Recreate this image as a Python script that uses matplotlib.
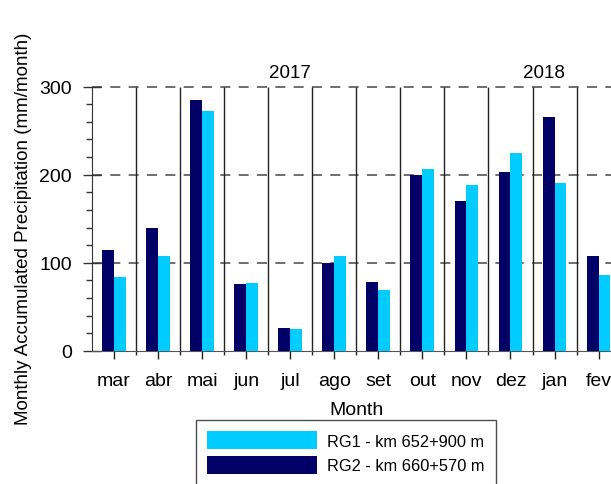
import numpy as np
import matplotlib
matplotlib.use('Agg')
import matplotlib.pyplot as plt
from matplotlib.ticker import MultipleLocator

plt.rcParams['font.family'] = ['Liberation Sans', 'DejaVu Sans']

# monthly accumulated precipitation (mm/month), Mar 2017 - Feb 2018
months = ['mar', 'abr', 'mai', 'jun', 'jul', 'ago', 'set', 'out', 'nov', 'dez', 'jan', 'fev']
rg1 = [84, 108, 272, 77, 25, 108, 69, 207, 188, 225, 191, 86]
rg2 = [115, 140, 285, 76, 26, 100, 78, 200, 170, 203, 265, 108]
rg1_label = 'RG1 - km 652+900 m'
rg2_label = 'RG2 - km 660+570 m'
years = ['2017', '2018']
year_pos = [4.0, 9.75]

W, H = 611, 485
fig = plt.figure(figsize=(W / 100, H / 100), dpi=100)
# axes runs a bit past the right edge, as in the original
ax = fig.add_axes([92 / W, 1 - 352 / H, (620.6 - 92) / W, (352 - 87.6) / H])

x = np.arange(len(months))
bw = 0.27
ax.bar(x - bw / 2, rg2, width=bw, color='#000066', label=rg2_label, zorder=3)
ax.bar(x + bw / 2, rg1, width=bw, color='#00CCFF', label=rg1_label, zorder=3)

ax.set_xlim(-0.5, len(months) - 0.5)
ax.set_ylim(0, 300)

# month separators
ax.vlines(x[:-1] + 0.5, -5, 300, color='#222222', linewidth=1.0,
          clip_on=False, zorder=2)
# dashed horizontal grid
for yv in [100, 200, 300]:
    ax.axhline(yv, color='#555555', linewidth=1.2, dashes=(6, 5), zorder=1,
               clip_on=False)

ax.set_xticks(x)
ax.set_xticklabels(months, fontsize=14)
ax.yaxis.set_major_locator(MultipleLocator(100))
ax.yaxis.set_minor_locator(MultipleLocator(20))
ax.tick_params(axis='y', which='major', direction='inout', length=13,
               width=1, colors='#333333', labelsize=14, labelcolor='black', pad=8)
ax.tick_params(axis='y', which='minor', direction='out', length=4,
               width=1, colors='#333333')
ax.tick_params(axis='x', which='major', direction='out', length=6,
               width=1, colors='#222222', labelsize=14, labelcolor='black', pad=9)

for s in ['top', 'right']:
    ax.spines[s].set_visible(False)
ax.spines['left'].set_color('#333333')
ax.spines['bottom'].set_color('#555555')

ax.set_xlabel('Month', fontsize=14, labelpad=9)
ax.set_ylabel('Monthly Accumulated Precipitation (mm/month)', fontsize=13.5)
ax.yaxis.set_label_coords(-0.1135, 0.465)

for yr, xp in zip(years, year_pos):
    ax.text(xp, 316.5, yr, fontsize=13.5, ha='center', va='center', clip_on=False)

handles, labels = ax.get_legend_handles_labels()
leg = fig.legend(handles[::-1], labels[::-1], loc='upper left',
                 bbox_to_anchor=(196 / W, 1 - 421 / H), fontsize=11.8,
                 frameon=True, fancybox=False, edgecolor='#222222',
                 handlelength=6.7, handleheight=1.3, handletextpad=0.6,
                 borderpad=0.7, labelspacing=0.4, borderaxespad=0)
leg.get_frame().set_linewidth(1.0)

fig.savefig('out.png', dpi=100)
